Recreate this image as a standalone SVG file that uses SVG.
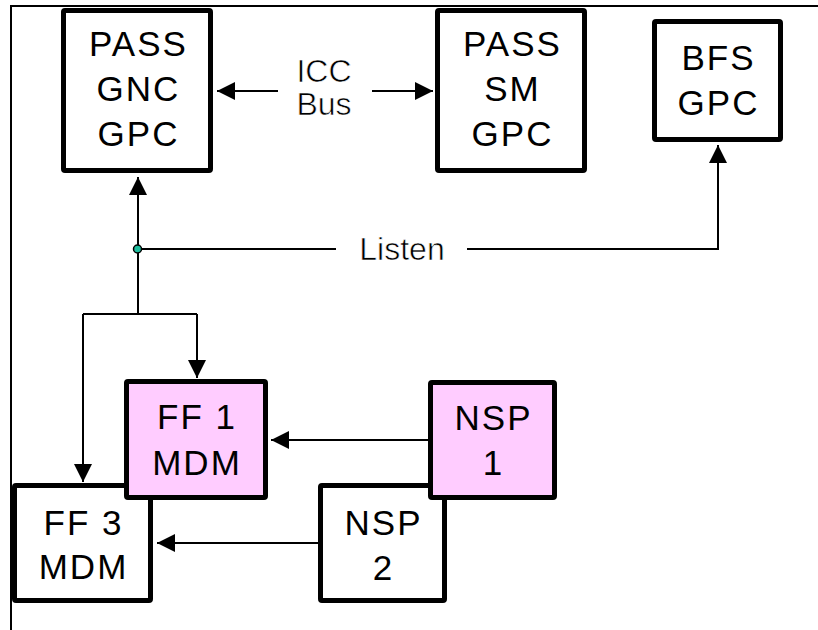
<svg xmlns="http://www.w3.org/2000/svg" width="818" height="630" viewBox="0 0 818 630">
<style>
.box{stroke:#000;stroke-width:5;fill:#fff}
.pink{fill:#FFCCFF}
.t{font-family:"Liberation Sans",Arial,sans-serif;font-size:35px;letter-spacing:2px;text-anchor:middle;fill:#000}
.lbl{font-family:"Liberation Sans",Arial,sans-serif;font-size:32px;text-anchor:middle;fill:#000;stroke:#fff;stroke-width:0.6px}
.ln{stroke:#000;stroke-width:2;fill:none}
.arr{marker-end:url(#ah)}
</style>
<defs>
<marker id="ah" markerUnits="userSpaceOnUse" markerWidth="19" markerHeight="19" refX="18" refY="9" orient="auto">
<path d="M0,0 L18,9 L0,18 z" fill="#000"/>
</marker>
</defs>
<rect width="818" height="630" fill="#fff"/>
<g id="frame">
<path class="ln" d="M11,630 V6 H818"/>
</g>
<g id="connectors">
<line class="ln arr" x1="278" y1="91" x2="217" y2="91"/>
<line class="ln arr" x1="372" y1="91" x2="433" y2="91"/>
<line class="ln arr" x1="138" y1="314" x2="138" y2="177"/>
<path class="ln" d="M138,249 H336"/>
<path class="ln arr" d="M467,249 H718 V145"/>
<path class="ln" d="M83,314 H197"/>
<line class="ln arr" x1="197" y1="314" x2="197" y2="378"/>
<line class="ln arr" x1="83" y1="314" x2="83" y2="482"/>
<line class="ln arr" x1="428" y1="440" x2="271" y2="440"/>
<line class="ln arr" x1="318" y1="543" x2="157" y2="543"/>
<circle cx="137.5" cy="249" r="4" fill="#1fbf9f" stroke="#000" stroke-width="1.5"/>
<text class="lbl" x="324" y="82">ICC</text>
<text class="lbl" x="324" y="115">Bus</text>
<text class="lbl" x="402" y="260">Listen</text>
</g>
<g id="pass-gnc-gpc">
<rect class="box" x="63.5" y="10.5" width="147" height="160" rx="1.5"/>
<text class="t" x="138.5" y="56">PASS</text>
<text class="t" x="138.5" y="101">GNC</text>
<text class="t" x="138.5" y="146">GPC</text>
</g>
<g id="pass-sm-gpc">
<rect class="box" x="437.5" y="10.5" width="147" height="160" rx="1.5"/>
<text class="t" x="512.5" y="56">PASS</text>
<text class="t" x="512.5" y="101">SM</text>
<text class="t" x="512.5" y="146">GPC</text>
</g>
<g id="bfs-gpc">
<rect class="box" x="654.5" y="21.5" width="126" height="118" rx="1.5"/>
<text class="t" x="718.5" y="70">BFS</text>
<text class="t" x="718.5" y="115">GPC</text>
</g>
<g id="ff3-mdm">
<rect class="box" x="14.5" y="485.5" width="136" height="115" rx="1.5"/>
<text class="t" x="83.5" y="535">FF 3</text>
<text class="t" x="83.5" y="579">MDM</text>
</g>
<g id="ff1-mdm">
<rect class="box pink" x="126.5" y="381.5" width="139" height="116" rx="1.5"/>
<text class="t" x="197" y="429">FF 1</text>
<text class="t" x="197" y="475">MDM</text>
</g>
<g id="nsp2">
<rect class="box" x="320.5" y="485.5" width="124" height="115" rx="1.5"/>
<text class="t" x="383.5" y="535">NSP</text>
<text class="t" x="383.5" y="580">2</text>
</g>
<g id="nsp1">
<rect class="box pink" x="430.5" y="382.5" width="124" height="115" rx="1.5"/>
<text class="t" x="493.5" y="430">NSP</text>
<text class="t" x="493.5" y="475">1</text>
</g>
</svg>
